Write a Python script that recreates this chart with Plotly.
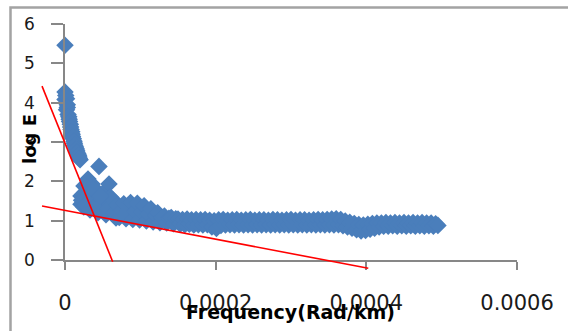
import plotly.graph_objects as go

# Spectrum samples: frequency (rad/km) and log energy
frequency = [
    # low-frequency branch
    0, 0, 0, 2e-6, 3e-6, 2e-6, 4e-6, 5.5e-6, 7e-6, 8e-6, 9.5e-6, 11e-6,
    12.5e-6, 14e-6, 15.5e-6, 17e-6, 18.5e-6, 20e-6,
    1e-6, 3e-6, 5e-6, 6e-6, 7.5e-6, 9e-6, 10e-6, 12e-6, 13e-6, 15e-6,
    16e-6, 18e-6, 19e-6,
    # scattered lobe
    21.2e-6, 21.2e-6, 25.2e-6, 30.5e-6, 35.8e-6, 30.5e-6, 33.2e-6, 41.1e-6,
    45.1e-6, 46.5e-6, 43.8e-6, 51.8e-6, 54.4e-6, 58.4e-6, 62.4e-6, 67.7e-6,
    25e-6, 38e-6, 55e-6, 60e-6, 66e-6,
    22e-6, 27e-6, 27e-6, 33e-6, 36e-6, 40e-6, 44e-6, 48e-6, 50e-6, 52e-6,
    57e-6, 63e-6, 65e-6, 29e-6, 31e-6, 37e-6, 47e-6,
    # flat tail
    69e-6, 72e-6, 75e-6, 78e-6, 81e-6, 84e-6, 87e-6, 90e-6, 93e-6, 96e-6,
    99e-6, 102e-6, 105e-6, 108e-6, 111e-6, 114e-6, 117e-6, 120e-6, 123e-6, 126e-6,
    129e-6, 132e-6, 135e-6, 138e-6, 141e-6, 144e-6, 147e-6, 150e-6, 153e-6, 156e-6,
    159e-6, 162e-6, 165e-6, 168e-6, 171e-6, 174e-6, 177e-6, 180e-6, 183e-6, 186e-6,
    189e-6, 192e-6, 195e-6, 198e-6, 201e-6, 204e-6, 207e-6, 210e-6, 213e-6, 216e-6,
    219e-6, 222e-6, 225e-6, 228e-6, 231e-6, 234e-6, 237e-6, 240e-6, 243e-6, 246e-6,
    249e-6, 252e-6, 255e-6, 258e-6, 261e-6, 264e-6, 267e-6, 270e-6, 273e-6, 276e-6,
    279e-6, 282e-6, 285e-6, 288e-6, 291e-6, 294e-6, 297e-6, 300e-6, 303e-6, 306e-6,
    309e-6, 312e-6, 315e-6, 318e-6, 321e-6, 324e-6, 327e-6, 330e-6, 333e-6, 336e-6,
    339e-6, 342e-6, 345e-6, 348e-6, 351e-6, 354e-6, 357e-6, 360e-6, 363e-6, 366e-6,
    369e-6, 372e-6, 375e-6, 378e-6, 381e-6, 384e-6, 387e-6, 390e-6, 393e-6, 396e-6,
    399e-6, 402e-6, 405e-6, 408e-6, 411e-6, 414e-6, 417e-6, 420e-6, 423e-6, 426e-6,
    429e-6, 432e-6, 435e-6, 438e-6, 441e-6, 444e-6, 447e-6, 450e-6, 453e-6, 456e-6,
    459e-6, 462e-6, 465e-6, 468e-6, 471e-6, 474e-6, 477e-6, 480e-6, 483e-6, 486e-6,
    489e-6, 492e-6, 495e-6,
]

log_e = [
    # low-frequency branch
    5.46, 4.27, 4.08, 4.10, 3.95, 3.82, 3.70, 3.58, 3.45, 3.32, 3.20, 3.08,
    2.97, 2.87, 2.78, 2.70, 2.62, 2.55,
    4.18, 3.88, 3.64, 3.52, 3.38, 3.26, 3.14, 3.02, 2.92, 2.82,
    2.74, 2.66, 2.58,
    # scattered lobe
    1.63, 1.42, 1.88, 2.06, 1.93, 1.53, 1.27, 1.78,
    2.38, 1.53, 1.20, 1.73, 1.15, 1.93, 1.35, 1.07,
    1.35, 1.45, 1.45, 1.60, 1.40,
    1.52, 1.62, 1.40, 1.75, 1.60, 1.35, 1.62, 1.40, 1.25, 1.55,
    1.30, 1.55, 1.20, 1.85, 1.65, 1.80, 1.62,
    # flat tail
    1.40, 1.08, 1.25, 1.43, 1.05, 1.26, 1.46, 1.03, 1.24, 1.44,
    1.02, 1.22, 1.38, 0.99, 1.17, 1.30, 0.97, 1.13, 1.20, 0.95,
    1.08, 1.12, 0.94, 1.06, 1.08, 0.92, 1.05, 1.04, 0.91, 1.03,
    0.90, 1.04, 0.91, 1.02, 0.89, 1.03, 0.90, 1.02, 0.89, 1.03,
    0.90, 1.01, 0.84, 1.00, 0.80, 1.02, 0.88, 1.03, 0.89, 1.01,
    0.90, 1.02, 0.89, 1.03, 0.90, 1.01, 0.89, 1.02, 0.90, 1.03,
    0.89, 1.01, 0.90, 1.02, 0.89, 1.02, 0.90, 1.01, 0.89, 1.03,
    0.90, 1.02, 0.89, 1.01, 0.90, 1.02, 0.89, 1.03, 0.90, 1.01,
    0.89, 1.02, 0.90, 1.02, 0.89, 1.01, 0.90, 1.02, 0.89, 1.03,
    0.90, 1.02, 0.89, 1.03, 0.90, 1.04, 0.89, 1.05, 0.90, 1.03,
    0.87, 0.99, 0.84, 0.96, 0.81, 0.93, 0.77, 0.90, 0.74, 0.89,
    0.75, 0.91, 0.78, 0.93, 0.81, 0.94, 0.84, 0.94, 0.86, 0.95,
    0.86, 0.94, 0.87, 0.95, 0.86, 0.94, 0.87, 0.95, 0.86, 0.94,
    0.87, 0.95, 0.86, 0.94, 0.87, 0.95, 0.86, 0.94, 0.87, 0.94,
    0.86, 0.92, 0.88,
]

# Hand-fitted straight-line segments (end points)
steep_fit_x = [-30.5e-6, 63.3e-6]
steep_fit_y = [4.42, -0.043]
flat_fit_x = [-30.5e-6, 402.6e-6]
flat_fit_y = [1.373, -0.211]

x_tick_vals = [0, 0.0002, 0.0004, 0.0006]
x_tick_text = ["0", "0.0002", "0.0004", "0.0006"]
y_tick_vals = [0, 1, 2, 3, 4, 5, 6]

x_range = [0, 0.0006]
y_range = [0, 6]

# Page and plot-area geometry in pixels
W, H = 568, 331
left, right, top, bottom = 65, 517, 24, 260

AXIS_GREY = "#878787"
TEXT = "#1a1a1a"
BLUE = "#4A7EBB"

# An invisible full-page axis pair with the same scale, so the fitted
# lines can run past the plotting area as they do on the sheet.
sx = (x_range[1] - x_range[0]) / (right - left)
sy = (y_range[1] - y_range[0]) / (bottom - top)
x2_range = [x_range[0] - left * sx, x_range[0] + (W - left) * sx]
y2_range = [y_range[0] - (H - bottom) * sy, y_range[0] + bottom * sy]

fig = go.Figure()

fig.add_trace(go.Scatter(
    x=frequency, y=log_e, mode="markers",
    marker=dict(symbol="diamond", size=13.5, color=BLUE, line=dict(width=0)),
    cliponaxis=False, showlegend=False, xaxis="x", yaxis="y",
))

for fx, fy in ((steep_fit_x, steep_fit_y), (flat_fit_x, flat_fit_y)):
    fig.add_trace(go.Scatter(
        x=fx, y=fy, mode="lines",
        line=dict(color="#FF0000", width=1.6),
        showlegend=False, xaxis="x2", yaxis="y2",
    ))

fig.update_layout(
    width=W, height=H,
    margin=dict(l=0, r=0, t=0, b=0),
    paper_bgcolor="white",
    plot_bgcolor="rgba(0,0,0,0)",
    xaxis=dict(
        domain=[left / W, right / W], range=x_range, anchor="y",
        tickmode="array", tickvals=x_tick_vals, ticktext=x_tick_text,
        ticks="outside", ticklen=8, tickwidth=1.5, tickcolor=AXIS_GREY,
        showline=True, linecolor=AXIS_GREY, linewidth=1.5,
        showgrid=False, zeroline=False, automargin=False,
        ticklabelstandoff=15,
        tickfont=dict(family="DejaVu Sans", size=21, color=TEXT),
    ),
    yaxis=dict(
        domain=[(H - bottom) / H, (H - top) / H], range=y_range, anchor="x",
        tickmode="array", tickvals=y_tick_vals,
        ticks="outside", ticklen=12, tickwidth=1.5, tickcolor=AXIS_GREY,
        showline=True, linecolor=AXIS_GREY, linewidth=1.5,
        showgrid=False, zeroline=False, automargin=False,
        ticklabelstandoff=13,
        tickfont=dict(family="DejaVu Sans", size=17, color=TEXT),
    ),
    xaxis2=dict(domain=[0, 1], range=x2_range, anchor="y2", visible=False),
    yaxis2=dict(domain=[0, 1], range=y2_range, anchor="x2", visible=False),
    annotations=[
        dict(text="Frequency(Rad/km)", xref="paper", yref="paper",
             x=290 / W, y=1 - 312 / H, xanchor="center", yanchor="middle",
             showarrow=False,
             font=dict(family="DejaVu Sans", size=19, color="black", weight="bold")),
        dict(text="log E", xref="paper", yref="paper",
             x=30 / W, y=1 - 139 / H, xanchor="center", yanchor="middle",
             textangle=-90, showarrow=False,
             font=dict(family="DejaVu Sans", size=18, color="black", weight="bold")),
    ],
    shapes=[
        dict(type="rect", xref="paper", yref="paper",
             x0=10.5 / W, x1=1.05, y0=-0.05, y1=1 - 7.5 / H,
             line=dict(color="#a3a3a3", width=2.5), layer="below"),
    ],
)

fig.write_html("out.html", config={"displayModeBar": False})
